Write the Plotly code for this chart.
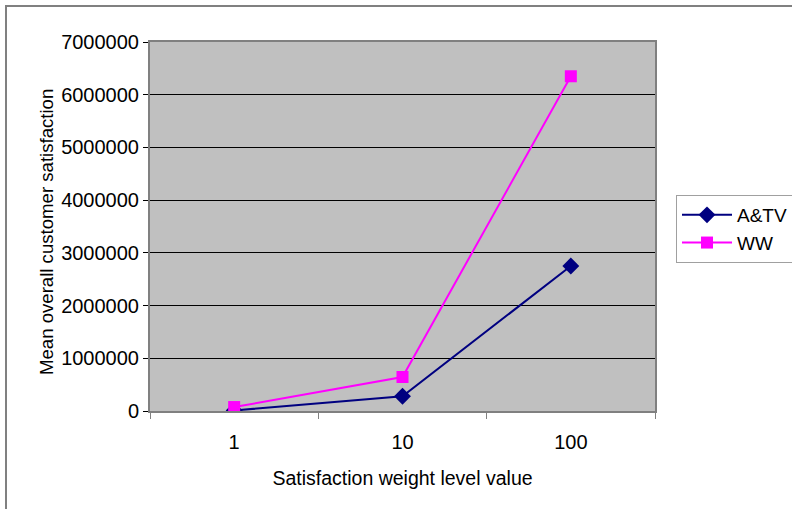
import plotly.graph_objects as go

categories = ["1", "10", "100"]
atv_values = [10000, 280000, 2750000]
ww_values = [75000, 645000, 6350000]
y_tick_values = [0, 1000000, 2000000, 3000000, 4000000, 5000000, 6000000, 7000000]

W, H = 792, 509
L, R, T, B = 150, 137, 42, 98

fig = go.Figure()
fig.add_trace(go.Scatter(
    x=categories, y=atv_values, name="A&TV", mode="lines+markers",
    line=dict(color="#000080", width=2),
    marker=dict(symbol="diamond", size=13, color="#000080"),
))
fig.add_trace(go.Scatter(
    x=categories, y=ww_values, name="WW", mode="lines+markers",
    line=dict(color="#FF00FF", width=2),
    marker=dict(symbol="square", size=12, color="#FF00FF"),
))

fam = "Liberation Sans, Arial, sans-serif"
font = dict(family=fam, size=19, color="black")

pw = W - L - R
ph = H - T - B


def px_x(p):
    return (p - L) / pw


def px_y(p):
    return (H - B - p) / ph


fig.add_annotation(text="Mean overall customer satisfaction",
                   xref="paper", yref="paper", x=px_x(46), y=px_y(232),
                   xanchor="center", yanchor="middle",
                   textangle=-90, showarrow=False,
                   font=dict(family=fam, size=18.6))

# outer chart frame (top and left edges)
frame = dict(color="#808080", width=2)
fig.add_shape(type="line", xref="paper", yref="paper",
              x0=px_x(5), x1=px_x(W), y0=px_y(6), y1=px_y(6), line=frame)
fig.add_shape(type="line", xref="paper", yref="paper",
              x0=px_x(6), x1=px_x(6), y0=px_y(5), y1=px_y(H), line=frame)

fig.update_layout(
    width=W, height=H,
    margin=dict(l=L, r=R, t=T, b=B, autoexpand=False),
    paper_bgcolor="white",
    plot_bgcolor="#C0C0C0",
    font=font,
    showlegend=True,
    legend=dict(
        x=px_x(676), y=px_y(195), xanchor="left", yanchor="top",
        bordercolor="#A0A0A0", borderwidth=1, bgcolor="white",
        font=dict(family=fam, size=19),
        itemwidth=50,
    ),
    xaxis=dict(
        type="category", range=[-0.5, 2.5],
        showline=True, linecolor="#808080", linewidth=2, mirror=True,
        ticks="outside", ticklen=6, tickcolor="#808080", tickwidth=1,
        tickson="boundaries", showgrid=False,
        tickfont=dict(family=fam, size=20),
        ticklabelstandoff=12,
        title=dict(text="Satisfaction weight level value", standoff=19,
                   font=dict(family=fam, size=19.5)),
    ),
    yaxis=dict(
        range=[0, 7000000], tickvals=y_tick_values,
        tickformat="d",
        showline=True, linecolor="#808080", linewidth=2, mirror=True,
        ticks="outside", ticklen=5, tickcolor="black",
        showgrid=True, gridcolor="black", gridwidth=1, zeroline=False,
        tickfont=dict(family=fam, size=20),
    ),
)

post = (
    "document.body.style.margin='0';"
    "document.body.style.overflow='hidden';"
)

fig.write_html("out.html", config={"displayModeBar": False}, post_script=post)
